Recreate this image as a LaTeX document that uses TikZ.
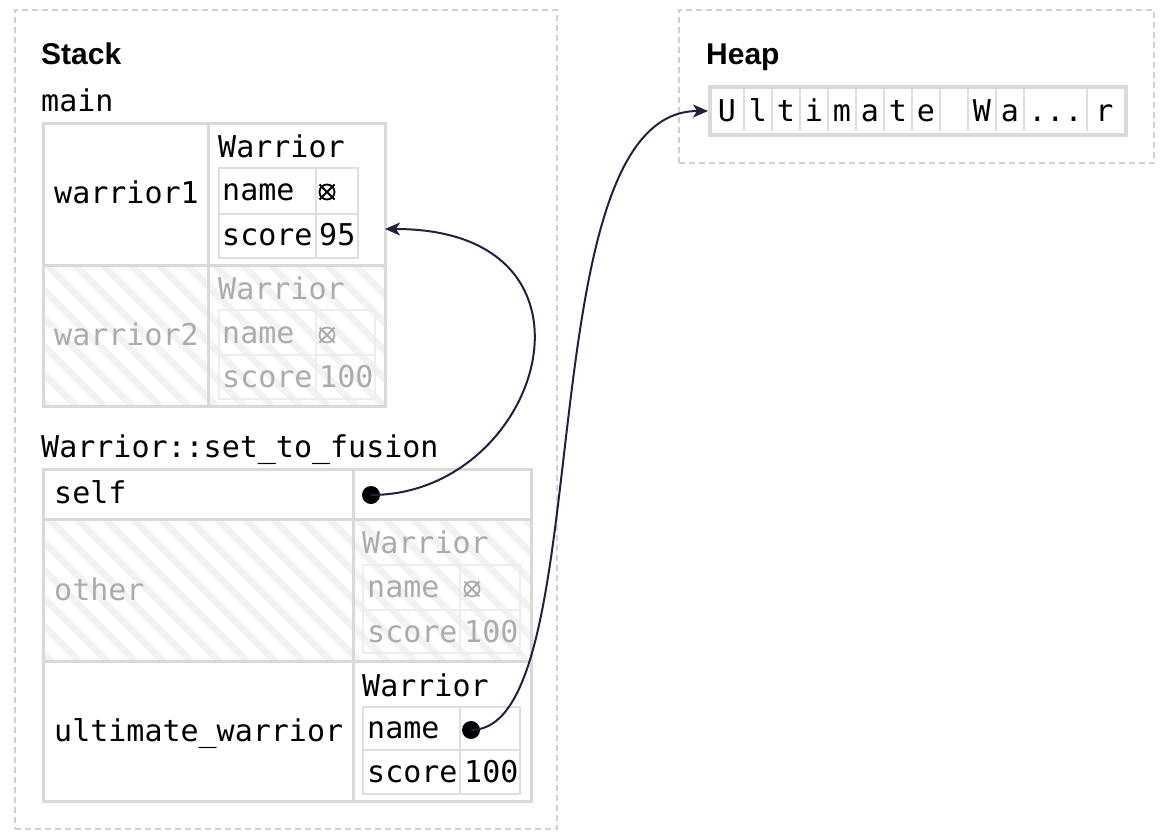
\documentclass[tikz,border=0pt]{standalone}
\usepackage{fontspec}
\setmonofont{DejaVu Sans Mono}
\newfontfamily\headfont{Liberation Sans}
\usetikzlibrary{arrows.meta,backgrounds}

\definecolor{framegray}{HTML}{D0D0D0}
\definecolor{cellgray}{HTML}{D9D9D9}
\definecolor{fieldgray}{HTML}{DEDEDE}
\definecolor{fadeline}{HTML}{EDEDED}
\definecolor{fadegray}{HTML}{ABABAB}
\definecolor{hatch}{HTML}{F2F2F2}
\definecolor{ptrcolor}{HTML}{281D3E}

\newcommand\memfont{\ttfamily\fontsize{30}{36}\selectfont}

\begin{document}
\begin{tikzpicture}[x=1pt, y=-1pt,
  frame/.style={draw=framegray, dash pattern=on 6pt off 4pt, line width=1.5pt, anchor=north west, inner sep=0pt},
  cell/.style={draw=cellgray, line width=3pt, anchor=north west, inner sep=0pt},
  field/.style={draw=fieldgray, line width=2pt, anchor=north west, inner sep=0pt},
  ghostfield/.style={field, draw=fadeline},
  stripe/.style={draw=hatch, line width=7pt},
  title/.style={font=\headfont\bfseries\fontsize{30}{36}\selectfont, anchor=base west, inner sep=0pt},
  code/.style={font=\memfont, anchor=base west, inner sep=0pt},
  ghost/.style={text=fadegray},
  slot/.style={font=\memfont, anchor=base, inner sep=0pt},
  dot/.style={circle, fill=black, minimum size=18pt, inner sep=0pt},
  nullmark/.pic={\draw[line width=1.8pt] (0,0) circle (7.5pt) (-7.5,-7.5) -- (7.5,7.5) (-7.5,7.5) -- (7.5,-7.5);},
  ptr/.style={-{Stealth[length=15pt, width=13pt, inset=4pt]}, line width=2pt, draw=ptrcolor}]
  \useasboundingbox (0,0) rectangle (1166,838);

  % frames
  \node[frame, minimum width=542pt, minimum height=819pt] (stack) at (14,9) {};
  \node[frame, minimum width=475pt, minimum height=153pt] (heap) at (678,9) {};
  \node[title] (stacklbl) at (41,64) {Stack};
  \node[title] (heaplbl) at (706,64) {Heap};

  % main
  \node[code] (mainlbl) at (41,111) {main};
  \node[cell, minimum width=165pt, minimum height=142pt] (w1key) at (42,122) {};
  \node[cell, minimum width=177pt, minimum height=142pt] (w1val) at (207,122) {};
  \node[cell, minimum width=165pt, minimum height=141pt] (w2key) at (42,264) {};
  \node[cell, minimum width=177pt, minimum height=141pt] (w2val) at (207,264) {};

  \node[code] (w1lbl) at (54,203) {warrior1};
  \node[code] (w1type) at (218,157) {Warrior};
  \node[field, minimum width=97pt, minimum height=46pt] (w1namek) at (218,167) {};
  \node[field, minimum width=42pt, minimum height=46pt] (w1namev) at (315,167) {};
  \node[field, minimum width=97pt, minimum height=44pt] (w1scorek) at (218,213) {};
  \node[field, minimum width=42pt, minimum height=44pt] (w1scorev) at (315,213) {};
  \node[code] (w1name) at (222,200) {name};
  \pic (w1null) at (327,192) {nullmark};
  \node[code] (w1score) at (222,245) {score};
  \node[code] (w1num) at (319,245) {95};

  \node[code, ghost] (w2lbl) at (54,345) {warrior2};
  \node[code, ghost] (w2type) at (218,299) {Warrior};
  \node[ghostfield, minimum width=97pt, minimum height=45pt] (w2namek) at (218,309) {};
  \node[ghostfield, minimum width=59pt, minimum height=45pt] (w2namev) at (315,309) {};
  \node[ghostfield, minimum width=97pt, minimum height=44pt] (w2scorek) at (218,354) {};
  \node[ghostfield, minimum width=59pt, minimum height=44pt] (w2scorev) at (315,354) {};
  \node[code, ghost] (w2name) at (222,343) {name};
  \pic[fadegray] (w2null) at (327,335) {nullmark};
  \node[code, ghost] (w2score) at (222,387) {score};
  \node[code, ghost] (w2num) at (319,387) {100};

  % Warrior::set_to_fusion
  \node[code] (fnlbl) at (41,457) {Warrior::set\_to\_fusion};
  \node[cell, minimum width=310pt, minimum height=50pt] (selfkey) at (42,468) {};
  \node[cell, minimum width=178pt, minimum height=50pt] (selfval) at (352,468) {};
  \node[cell, minimum width=310pt, minimum height=142pt] (otherkey) at (42,518) {};
  \node[cell, minimum width=178pt, minimum height=142pt] (otherval) at (352,518) {};
  \node[cell, minimum width=310pt, minimum height=140pt] (ultkey) at (42,660) {};
  \node[cell, minimum width=178pt, minimum height=140pt] (ultval) at (352,660) {};

  \node[code] (selflbl) at (54,503) {self};
  \node[dot] (selfptr) at (371,495) {};

  \node[code, ghost] (otherlbl) at (54,600) {other};
  \node[code, ghost] (othertype) at (362,553) {Warrior};
  \node[ghostfield, minimum width=97pt, minimum height=45pt] (othnamek) at (362,564) {};
  \node[ghostfield, minimum width=60pt, minimum height=45pt] (othnamev) at (459,564) {};
  \node[ghostfield, minimum width=97pt, minimum height=43pt] (othscorek) at (362,609) {};
  \node[ghostfield, minimum width=60pt, minimum height=43pt] (othscorev) at (459,609) {};
  \node[code, ghost] (othname) at (367,597) {name};
  \pic[fadegray] (othnull) at (472,589) {nullmark};
  \node[code, ghost] (othscore) at (367,642) {score};
  \node[code, ghost] (othnum) at (464,642) {100};

  \node[code] (ultlbl) at (54,741) {ultimate\_warrior};
  \node[code] (ulttype) at (362,696) {Warrior};
  \node[field, minimum width=97pt, minimum height=43pt] (ultnamek) at (362,706) {};
  \node[field, minimum width=60pt, minimum height=43pt] (ultnamev) at (459,706) {};
  \node[field, minimum width=97pt, minimum height=44pt] (ultscorek) at (362,749) {};
  \node[field, minimum width=60pt, minimum height=44pt] (ultscorev) at (459,749) {};
  \node[code] (ultname) at (367,738) {name};
  \node[code] (ultscore) at (367,782) {score};
  \node[code] (ultnum) at (464,782) {100};
  \node[dot] (nameptr) at (471,730) {};

  % dropped rows
  \begin{scope}[on background layer]
    \begin{scope}
      \clip (w2key.north west) rectangle (w2val.south east);
      \foreach \n [evaluate=\n as \c using 270+28*\n] in {-14,...,5}
        \draw[stripe] (\c,264) -- ++(142,142);
    \end{scope}
    \begin{scope}
      \clip (otherkey.north west) rectangle (otherval.south east);
      \foreach \n [evaluate=\n as \c using 524+28*\n] in {-23,...,1}
        \draw[stripe] (\c,518) -- ++(143,143);
    \end{scope}
  \end{scope}

  % heap string
  \node[cell, line width=4pt, minimum width=416pt, minimum height=48pt] (heaparr) at (708,85) {};
  \foreach \x in {744,772,800,828,856,884,912,940,968,996,1024,1087}
    \draw[fieldgray, line width=1.5pt] (\x,89) -- (\x,131);
  \node[slot] (chU) at (727,121) {U};
  \foreach \x/\ch in {758/l,786/t,814/i,842/m,870/a,898/t,926/e,982/W,1010/a}
    \node[slot] (ch\x) at (\x,121) {\ch};
  \node[slot] (chdots) at (1055.5,121) {...};
  \node[slot] (chr) at (1104.5,121) {r};

  % pointers
  \coordinate (w1tip) at (385,229);
  \draw[ptr] (selfptr.center) .. controls +(171,0) and +(237,0) .. (w1tip);
  \draw[ptr] (nameptr.center) .. controls +(131,0) and +(-185,0) .. (heaparr.west);
\end{tikzpicture}
\end{document}
